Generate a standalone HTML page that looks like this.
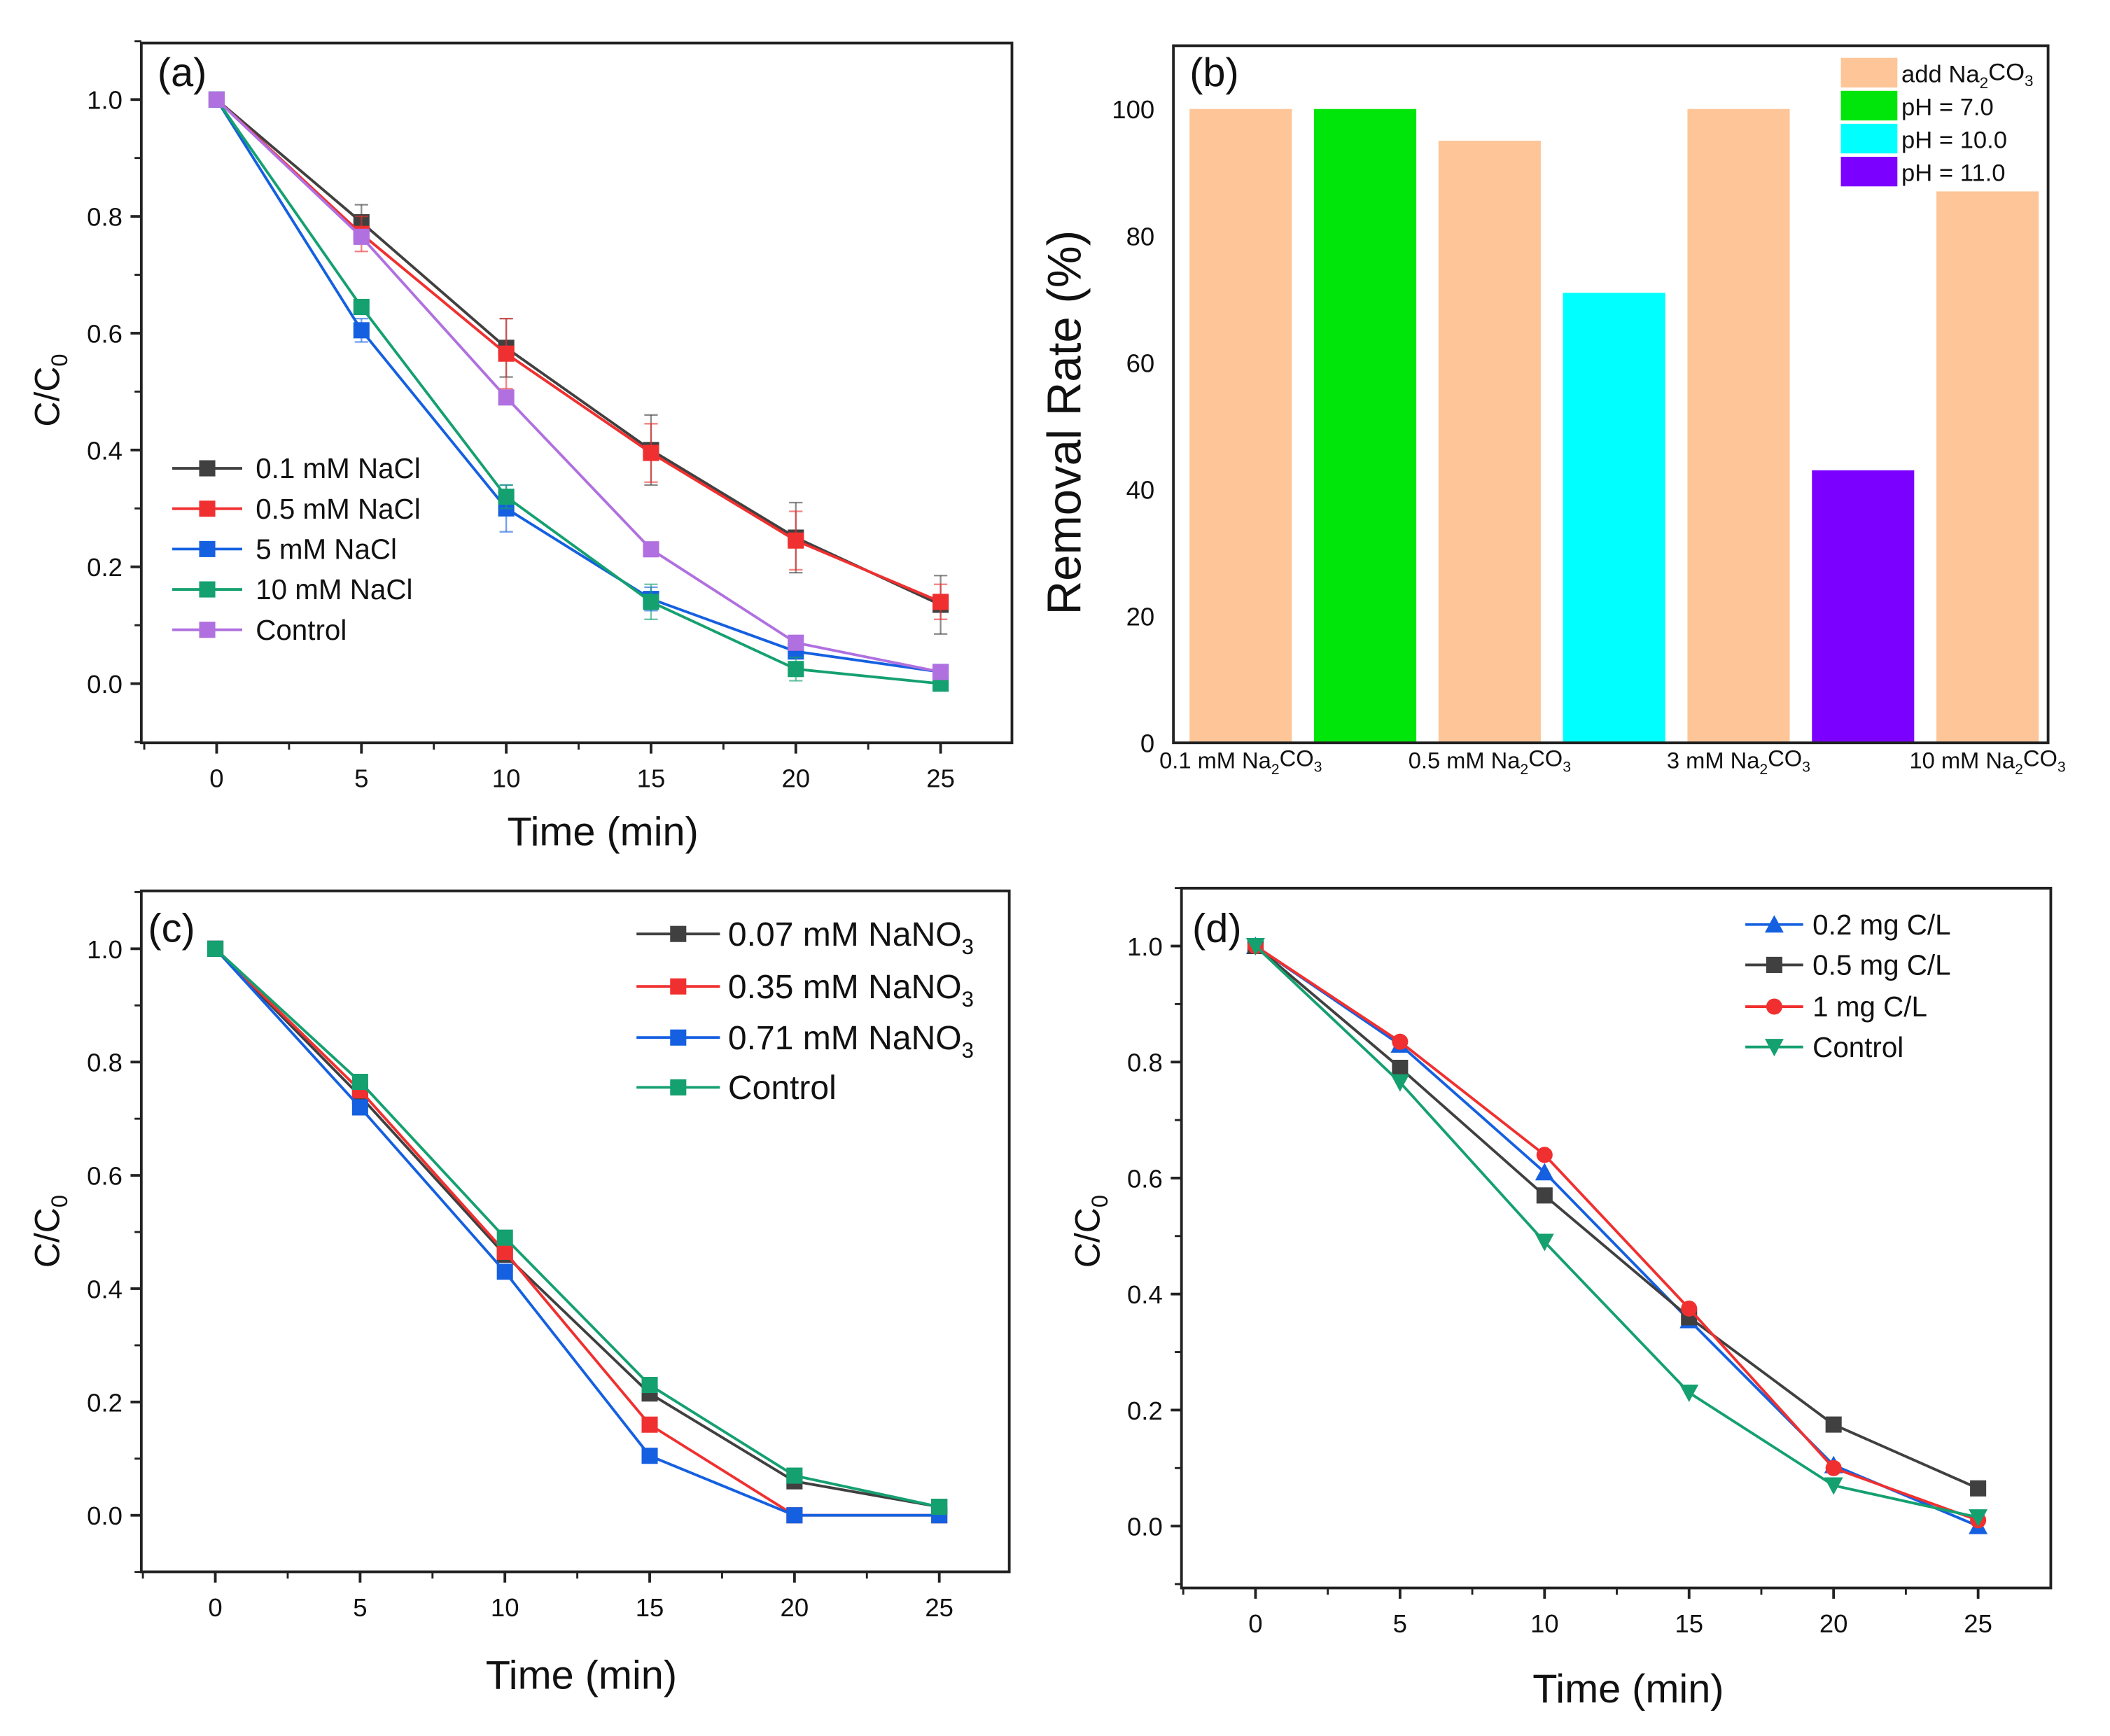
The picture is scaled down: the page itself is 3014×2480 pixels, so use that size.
<!DOCTYPE html>
<html><head><meta charset="utf-8">
<style>
html,body{margin:0;padding:0;background:#fff;}
svg{display:block;font-family:"Liberation Sans",Arial,sans-serif;}
</style></head>
<body>
<svg id="fig" width="3014" height="2480" viewBox="0 0 1568 1290" preserveAspectRatio="none" xmlns="http://www.w3.org/2000/svg"></svg>
<script>
// ---------- data ----------
const times = [0, 5, 10, 15, 20, 25];
const xTicks = [0, 5, 10, 15, 20, 25];
const yTicksC = [0.0, 0.2, 0.4, 0.6, 0.8, 1.0];
// panel a
const aNames = ["0.1 mM NaCl", "0.5 mM NaCl", "5 mM NaCl", "10 mM NaCl", "Control"];
const aS1 = [1, 0.79, 0.575, 0.40, 0.25, 0.135];
const aS2 = [1, 0.77, 0.565, 0.395, 0.245, 0.14];
const aS3 = [1, 0.605, 0.30, 0.145, 0.055, 0.02];
const aS4 = [1, 0.645, 0.32, 0.14, 0.025, 0.0];
const aS5 = [1, 0.765, 0.49, 0.23, 0.07, 0.02];
const aErr1 = [0, 0.03, 0.05, 0.06, 0.06, 0.05];
const aErr2 = [0, 0.03, 0.06, 0.05, 0.05, 0.03];
const aErr3 = [0, 0.02, 0.04, 0.02, 0.01, 0.01];
const aErr4 = [0, 0.01, 0.02, 0.03, 0.02, 0.01];
const aErr5 = [0, 0.01, 0.01, 0.01, 0.01, 0.01];
// panel b
const bCats = ["0.1 mM Na2CO3", "", "0.5 mM Na2CO3", "", "3 mM Na2CO3", "", "10 mM Na2CO3"];
const bVals = [100, 100, 95, 71, 100, 43, 87];
const bTicks = [0, 20, 40, 60, 80, 100];
// panel c
const cNames = ["0.07 mM NaNO3", "0.35 mM NaNO3", "0.71 mM NaNO3", "Control"];
const cS1 = [1, 0.74, 0.46, 0.215, 0.06, 0.015];
const cS2 = [1, 0.75, 0.465, 0.16, 0.0, 0.0];
const cS3 = [1, 0.72, 0.43, 0.105, 0.0, 0.0];
const cS4 = [1, 0.765, 0.49, 0.23, 0.07, 0.015];
// panel d
const dNames = ["0.2 mg C/L", "0.5 mg C/L", "1 mg C/L", "Control"];
const dS1 = [1, 0.83, 0.61, 0.355, 0.105, 0.0];
const dS2 = [1, 0.79, 0.57, 0.36, 0.175, 0.065];
const dS3 = [1, 0.835, 0.64, 0.375, 0.1, 0.01];
const dS4 = [1, 0.765, 0.49, 0.23, 0.07, 0.015];

const NS = "http://www.w3.org/2000/svg";
const fig = document.getElementById("fig");
function mk(tag, attrs, parent, text) {
  const e = document.createElementNS(NS, tag);
  for (const k in attrs) e.setAttribute(k, attrs[k]);
  if (text !== undefined) e.textContent = text;
  (parent || fig).appendChild(e);
  return e;
}
function subText(parent, x, y, size, anchor, parts) {
  const t = mk("text", {x: x, y: y, "font-size": size, "text-anchor": anchor, fill: "#111"}, parent);
  parts.forEach(p => {
    mk("tspan", p[1] ? {"font-size": size * 0.65, dy: size * 0.25} : {dy: p[2] || 0}, t, p[0]);
  });
  return t;
}
function splitSub(name) {
  const parts = [];
  const re = /(Na)(2)(CO)(3)|(NO)(3)/;
  const m = name.match(re);
  if (!m) return [[name, false]];
  const i = m.index;
  parts.push([name.slice(0, i) + (m[1] || m[5]), false]);
  if (m[1]) {
    parts.push(["2", true]);
    parts.push(["CO", false, -6]);
    parts.push(["3", true]);
  } else {
    parts.push(["3", true]);
  }
  return parts;
}

function linePanel(cfg) {
  const g = mk("g", {});
  
  
  const L = cfg.L, R = cfg.R, T = cfg.T, B = cfg.B;
  const sx = v => cfg.x0 + (cfg.x25 - cfg.x0) * v / 25;
  const sy = v => cfg.y0 + (cfg.y1 - cfg.y0) * v;
  const frame = mk("rect", {x: L, y: T, width: R - L, height: B - T, fill: "none", stroke: "#222", "stroke-width": 2}, g);
  
  
  xTicks.forEach(t => {
    const tk = mk("line", {x1: sx(t), x2: sx(t), y1: B, y2: B + 8, stroke: "#222", "stroke-width": 2}, g);
    
    
    const lb = mk("text", {x: sx(t), y: B + 33, "font-size": 19, "text-anchor": "middle", fill: "#111"}, g, String(t));
    
    
    if (t < 25) mk("line", {x1: sx(t + 2.5), x2: sx(t + 2.5), y1: B, y2: B + 5, stroke: "#222", "stroke-width": 1.5}, g);
  });
  mk("line", {x1: sx(-2.5), x2: sx(-2.5), y1: B, y2: B + 5, stroke: "#222", "stroke-width": 1.5}, g);
  yTicksC.forEach(t => {
    const tk = mk("line", {x1: L - 8, x2: L, y1: sy(t), y2: sy(t), stroke: "#222", "stroke-width": 2}, g);
    
    
    const lb = mk("text", {x: L - 14, y: sy(t) + 7, "font-size": 19, "text-anchor": "end", fill: "#111"}, g, t.toFixed(1));
    
    
    mk("line", {x1: L - 5, x2: L, y1: sy(t + 0.1), y2: sy(t + 0.1), stroke: "#222", "stroke-width": 1.5}, g);
  });
  mk("line", {x1: L - 5, x2: L, y1: sy(-0.1), y2: sy(-0.1), stroke: "#222", "stroke-width": 1.5}, g);
  const xt = mk("text", {x: cfg.xtX, y: cfg.xtY, "font-size": 30, "text-anchor": "middle", fill: "#111"}, g, "Time (min)");
  
  
  const yt = mk("text", {transform: "translate(" + cfg.ytX + "," + cfg.ytY + ") rotate(-90)", "font-size": 26, "text-anchor": "middle", fill: "#111"}, g);
  mk("tspan", {}, yt, "C/C");
  mk("tspan", {"font-size": 17, dy: 6}, yt, "0");
  
  
  const pl = mk("text", {x: cfg.lx, y: cfg.ly, "font-size": 30, fill: "#111"}, g, cfg.letter);
  
  

  cfg.series.forEach((s, i) => {
    const sg = mk("g", {}, g);
    
    
    if (s.err) s.vals.forEach((v, j) => {
      if (!s.err[j]) return;
      const e1 = mk("line", {x1: sx(times[j]), x2: sx(times[j]), y1: sy(v + s.err[j]), y2: sy(v - s.err[j]), stroke: s.color, "stroke-width": 1.2, opacity: 0.6}, sg);
      
      
      [v + s.err[j], v - s.err[j]].forEach(w => mk("line", {x1: sx(times[j]) - 5, x2: sx(times[j]) + 5, y1: sy(w), y2: sy(w), stroke: s.color, "stroke-width": 1.2, opacity: 0.6}, sg));
    });
    const pts = s.vals.map((v, j) => sx(times[j]) + "," + sy(v)).join(" ");
    const ln = mk("polyline", {points: pts, fill: "none", stroke: s.color, "stroke-width": 2}, sg);
    
    
    s.vals.forEach((v, j) => {
      const m = marker(sg, s.marker, sx(times[j]), sy(v), s.color, 6);
      
      
    });
    const ly = cfg.legY[i];
    const lg = mk("g", {}, g);
    
    
    mk("line", {x1: cfg.legX1, x2: cfg.legX2, y1: ly, y2: ly, stroke: s.color, "stroke-width": 2}, lg);
    marker(lg, s.marker, (cfg.legX1 + cfg.legX2) / 2, ly, s.color, 6);
    subText(lg, cfg.legTX, ly + cfg.legFS * 0.35, cfg.legFS, "start", splitSub(s.name));
  });
}
function marker(parent, type, x, y, color, r) {
  if (type === "sq") return mk("rect", {x: x - r, y: y - r, width: 2 * r, height: 2 * r, fill: color}, parent);
  if (type === "ci") return mk("circle", {cx: x, cy: y, r: r, fill: color}, parent);
  if (type === "tu") return mk("polygon", {points: (x) + "," + (y - r - 1) + " " + (x - r - 1) + "," + (y + r) + " " + (x + r + 1) + "," + (y + r), fill: color}, parent);
  return mk("polygon", {points: (x) + "," + (y + r + 1) + " " + (x - r - 1) + "," + (y - r) + " " + (x + r + 1) + "," + (y - r), fill: color}, parent);
}

const DK = "#404040", RD = "#f03030", BL = "#1560e0", GR = "#15a070", VI = "#b070e0";

linePanel({name: "panel-a", letter: "(a)", L: 105, R: 752, T: 32, B: 552, x0: 161, x25: 699, y0: 508, y1: 74,
  xtX: 448, xtY: 628, ytX: 44, ytY: 290, lx: 117, ly: 64,
  legX1: 128, legX2: 180, legTX: 190, legFS: 21, legY: [348, 378, 408, 438, 468],
  series: [
    {name: aNames[0], vals: aS1, err: aErr1, color: DK, marker: "sq"},
    {name: aNames[1], vals: aS2, err: aErr2, color: RD, marker: "sq"},
    {name: aNames[2], vals: aS3, err: aErr3, color: BL, marker: "sq"},
    {name: aNames[3], vals: aS4, err: aErr4, color: GR, marker: "sq"},
    {name: aNames[4], vals: aS5, err: aErr5, color: VI, marker: "sq"}]});

linePanel({name: "panel-c", letter: "(c)", L: 105, R: 750, T: 662, B: 1168, x0: 160, x25: 698, y0: 1126, y1: 705,
  xtX: 432, xtY: 1255, ytX: 44, ytY: 915, lx: 110, ly: 700,
  legX1: 473, legX2: 535, legTX: 541, legFS: 25, legY: [694, 733, 771, 808],
  series: [
    {name: cNames[0], vals: cS1, color: DK, marker: "sq"},
    {name: cNames[1], vals: cS2, color: RD, marker: "sq"},
    {name: cNames[2], vals: cS3, color: BL, marker: "sq"},
    {name: cNames[3], vals: cS4, color: GR, marker: "sq"}]});

linePanel({name: "panel-d", letter: "(d)", L: 878, R: 1524, T: 660, B: 1180, x0: 933, x25: 1470, y0: 1134, y1: 703,
  xtX: 1210, xtY: 1265, ytX: 817, ytY: 915, lx: 886, ly: 700,
  legX1: 1297, legX2: 1340, legTX: 1347, legFS: 21, legY: [687, 717, 748, 778],
  series: [
    {name: dNames[0], vals: dS1, color: BL, marker: "tu"},
    {name: dNames[1], vals: dS2, color: DK, marker: "sq"},
    {name: dNames[2], vals: dS3, color: RD, marker: "ci"},
    {name: dNames[3], vals: dS4, color: GR, marker: "td"}]});

// ---------- panel b ----------
(function () {
  const g = mk("g", {});
  
  
  const L = 872, R = 1522, T = 34, B = 552;
  const sy = v => B - (B - 81) * v / 100;
  const colors = ["#fdc598", "#00e60a", "#fdc598", "#00ffff", "#fdc598", "#7b00ff", "#fdc598"];
  const barW = 76, step = (1515 - 884 - barW) / 6;
  bVals.forEach((v, i) => {
    const x = 884 + i * step;
    const r = mk("rect", {x: x, y: sy(v), width: barW, height: B - sy(v), fill: colors[i]}, g);
    
    
    if (bCats[i]) {
      const t = subText(g, x + barW / 2, 571, 17, "middle", splitSub(bCats[i]));
      
      
    }
  });
  const frame = mk("rect", {x: L, y: T, width: R - L, height: B - T, fill: "none", stroke: "#222", "stroke-width": 2}, g);
  
  
  bTicks.forEach(t => {
    const lb = mk("text", {x: 858, y: sy(t) + 7, "font-size": 19, "text-anchor": "end", fill: "#111"}, g, String(t));
    
    
  });
  const yt = mk("text", {transform: "translate(803,314) rotate(-90)", "font-size": 35, "text-anchor": "middle", fill: "#111"}, g, "Removal Rate (%)");
  
  
  const pl = mk("text", {x: 884, y: 64, "font-size": 30, fill: "#111"}, g, "(b)");
  
  
  const legC = ["#fdc598", "#00e60a", "#00ffff", "#7b00ff"];
  const legT = ["add Na2CO3", "pH = 7.0", "pH = 10.0", "pH = 11.0"];
  legT.forEach((s, i) => {
    const lg = mk("g", {}, g);
    
    
    mk("rect", {x: 1368, y: 43 + i * 24.5, width: 42, height: 22, fill: legC[i]}, lg);
    subText(lg, 1413, 61 + i * 24.5, 18, "start", splitSub(s));
  });
})();
</script>
</body></html>
